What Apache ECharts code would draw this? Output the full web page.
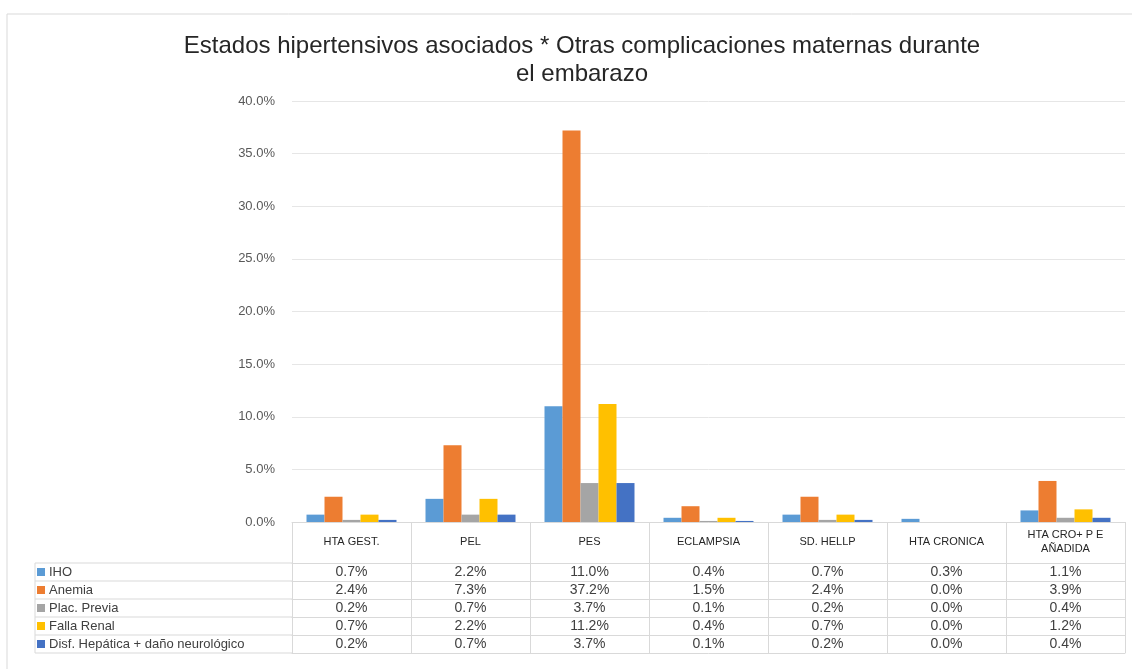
<!DOCTYPE html>
<html>
<head>
<meta charset="utf-8">
<script src="https://cdn.jsdelivr.net/npm/echarts@6/dist/echarts.min.js"></script>
<style>
  html, body { margin: 0; padding: 0; background: #fff; }
  #main { width: 1132px; height: 669px; }
</style>
</head>
<body>
<div id="main"></div>
<script>
// categorias y series (porcentajes)
const categories = ['HTA GEST.', 'PEL', 'PES', 'ECLAMPSIA', 'SD. HELLP', 'HTA CRONICA', 'HTA CRO+ P E\nAÑADIDA'];
const seriesNames = ['IHO', 'Anemia', 'Plac. Previa', 'Falla Renal', 'Disf. Hepática + daño neurológico'];
const iho = [0.7, 2.2, 11.0, 0.4, 0.7, 0.3, 1.1];
const anemia = [2.4, 7.3, 37.2, 1.5, 2.4, 0.0, 3.9];
const placPrevia = [0.2, 0.7, 3.7, 0.1, 0.2, 0.0, 0.4];
const fallaRenal = [0.7, 2.2, 11.2, 0.4, 0.7, 0.0, 1.2];
const disfHepatica = [0.2, 0.7, 3.7, 0.1, 0.2, 0.0, 0.4];
const yTicks = [0, 5, 10, 15, 20, 25, 30, 35, 40];

const rows = [iho, anemia, placPrevia, fallaRenal, disfHepatica];
const colors = ['#5B9BD5', '#ED7D31', '#A5A5A5', '#FFC000', '#4472C4'];

// layout
const gridLeft = 292, gridTop = 101, gridRight = 7, gridBottom = 147;
const axisY = 669 - gridBottom;   // linea del 0%
const headerH = 41, rowH = 18, tableLeft = 35;
const lineColor = '#d9d9d9';
const font = "'Liberation Sans', Arial, sans-serif";

const pct = v => v.toFixed(1) + '%';

let xAxes = [{
  type: 'category',
  data: categories,
  axisLine: {lineStyle: {color: lineColor}},
  axisTick: {show: true, interval: 0, length: headerH, lineStyle: {color: lineColor}},
  axisLabel: {interval: 0, margin: 20, verticalAlign: 'middle', fontSize: 11, lineHeight: 14, color: '#262626', fontFamily: font}
}];
rows.forEach((r, i) => {
  xAxes.push({
    type: 'category',
    data: categories,
    position: 'bottom',
    offset: headerH + rowH * i,
    axisLine: {show: true, lineStyle: {color: lineColor}},
    axisTick: {show: true, interval: 0, length: rowH, lineStyle: {color: lineColor}},
    axisLabel: {interval: 0, margin: 9, verticalAlign: 'middle', fontSize: 14, color: '#404040', fontFamily: font,
      formatter: (v, idx) => pct(r[idx])}
  });
});
// linea inferior de la tabla
xAxes.push({
  type: 'category',
  data: categories,
  position: 'bottom',
  offset: headerH + rowH * rows.length,
  axisLine: {show: true, lineStyle: {color: lineColor}},
  axisTick: {show: false},
  axisLabel: {show: false}
});

// bordes de la columna de leyenda
let tableLines = [];
for (let k = 0; k <= rows.length; k++) {
  let y = axisY + headerH + rowH * k;
  tableLines.push({type: 'line', shape: {x1: tableLeft, y1: y, x2: gridLeft, y2: y}, style: {stroke: lineColor, lineWidth: 1}});
}
tableLines.push({type: 'line', shape: {x1: tableLeft, y1: axisY + headerH, x2: tableLeft, y2: axisY + headerH + rowH * rows.length}, style: {stroke: lineColor, lineWidth: 1}});

let option = {
  animation: false,
  backgroundColor: '#fff',
  title: {
    text: 'Estados hipertensivos asociados * Otras complicaciones maternas durante\nel embarazo',
    left: 577,
    textAlign: 'center',
    top: 27,
    textStyle: {fontSize: 24, fontWeight: 'normal', color: '#262626', lineHeight: 28, fontFamily: font}
  },
  legend: {
    orient: 'vertical',
    left: 37,
    top: axisY + headerH,
    itemGap: 0,
    itemWidth: 8,
    itemHeight: 8,
    icon: 'rect',
    selectedMode: false,
    padding: 0,
    data: seriesNames,
    textStyle: {fontSize: 13, lineHeight: 18, color: '#404040', fontFamily: font, padding: [0, 0, 0, -1]}
  },
  graphic: [
    {type: 'rect', shape: {x: 7, y: 14, width: 1140, height: 700}, style: {fill: 'none', stroke: lineColor, lineWidth: 1}},
    ...tableLines
  ],
  grid: {left: gridLeft, top: gridTop, right: gridRight, bottom: gridBottom},
  xAxis: xAxes,
  yAxis: {
    type: 'value',
    min: yTicks[0],
    max: yTicks[yTicks.length - 1],
    interval: 5,
    axisLine: {show: false},
    axisTick: {show: false},
    splitLine: {lineStyle: {color: '#e6e6e6'}},
    axisLabel: {margin: 17, fontSize: 13, color: '#595959', fontFamily: font, formatter: v => pct(v)}
  },
  series: seriesNames.map((name, i) => ({
    name: name,
    type: 'bar',
    data: rows[i],
    barWidth: 18,
    barGap: '0%',
    itemStyle: {color: colors[i]}
  }))
};

let myChart = echarts.init(document.getElementById('main'));
myChart.setOption(option);
</script>
</body>
</html>
